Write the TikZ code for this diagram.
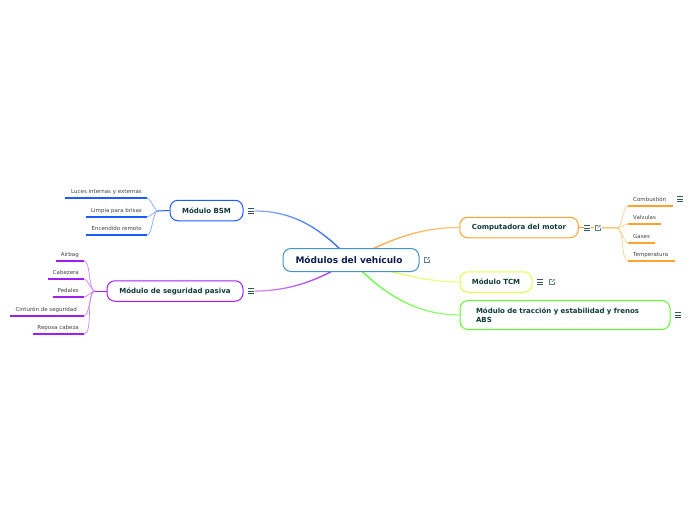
\documentclass[tikz,border=0pt]{standalone}
\usepackage{fontspec}
\setmainfont{DejaVu Sans}
\usetikzlibrary{positioning,backgrounds,fadings}

\definecolor{bsmblue}{HTML}{1E5BFF}
\definecolor{pasivapurple}{HTML}{A31DF0}
\definecolor{motororange}{HTML}{FFA32E}
\definecolor{tcmyellow}{HTML}{E2FF45}
\definecolor{absgreen}{HTML}{5CFF2E}
\definecolor{rootblue}{HTML}{3F93D2}
\definecolor{branchtext}{HTML}{0E3B3A}
\definecolor{roottext}{HTML}{0E1F4D}

\tikzset{
  rootbox/.style={draw=rootblue, fill=white, rounded corners=8pt, line width=1pt, minimum width=136pt, minimum height=23pt, inner sep=0pt, font=\fontsize{9}{11}\selectfont\bfseries, text=roottext},
  branchbox/.style={draw=#1, fill=white, rounded corners=8pt, line width=1pt, inner sep=0pt, minimum height=20.5pt, font=\fontsize{7}{9}\selectfont\bfseries, text=branchtext},
  leafbox/.style={inner sep=0pt, text height=4pt, text depth=4pt, font=\fontsize{5.5}{6}\selectfont, text=black!75},
  leafleft/.style={leafbox, anchor=south east, xshift=-5pt},
  leafright/.style={leafbox, anchor=south west, xshift=5pt},
  underline/.style={draw=#1, line width=1.2pt},
  mainleft/.style={draw=#1!50, line width=1.2pt, postaction={draw=#1, path fading=west}},
  mainright/.style={draw=#1!60, line width=1.2pt, postaction={draw=#1, path fading=east}},
  stubline/.style={draw=#1, line width=1pt},
  twig/.style={draw=#1!55, line width=0.7pt, looseness=0.55},
  menuicon/.style={minimum size=7pt, inner sep=0pt, fill=white, path picture={
      \draw[branchtext!85, line width=0.6pt] (-3pt,2.5pt) -- (3pt,2.5pt) (-3pt,0pt) -- (3pt,0pt) (-3pt,-2.5pt) -- (3pt,-2.5pt);}},
  linkicon/.style={minimum size=8pt, inner sep=0pt, fill=white, path picture={
      \draw[branchtext!65, line width=0.4pt] (0.3pt,2.5pt) -- (-2.6pt,2.5pt) -- (-2.6pt,-2.6pt) -- (2.5pt,-2.6pt) -- (2.5pt,-0.2pt);
      \draw[branchtext!65, line width=0.4pt] (-0.5pt,-0.2pt) -- (2.5pt,2.7pt) (0.9pt,2.7pt) -- (2.5pt,2.7pt) -- (2.5pt,1.1pt);}}
}

\begin{document}
\begin{tikzpicture}[x=1pt, y=-1pt]
  \useasboundingbox (0,0) rectangle (696,520);

  % central topic and branches
  \node[rootbox] (root) at (351,260) {M\'odulos del veh\'iculo\rule{4pt}{0pt}};
  \node[branchbox=bsmblue, minimum width=73pt] (bsm) at (206.5,210.5) {M\'odulo BSM};
  \node[branchbox=pasivapurple, minimum width=136pt] (pasiva) at (175,291) {M\'odulo de seguridad pasiva};
  \node[branchbox=motororange, minimum width=118.5pt] (motor) at (519,227.5) {Computadora del motor};
  \node[branchbox=tcmyellow, minimum width=72pt] (tcm) at (496,282) {M\'odulo TCM};
  \node[branchbox=absgreen, minimum height=29pt, text width=178pt, inner xsep=16pt, align=left] (abs) at (565,315) {M\'odulo de tracci\'on y estabilidad y frenos\\ABS};

  % icons
  \node[menuicon] (bsmmenu) at (251,211) {};
  \node[menuicon] (pasivamenu) at (251,291) {};
  \node[menuicon] (motormenu) at (587,228) {};
  \node[linkicon] (motorlink) at (598,228) {};
  \node[menuicon] (tcmmenu) at (540,282) {};
  \node[linkicon] (tcmlink) at (552,282) {};
  \node[menuicon] (absmenu) at (678,315) {};
  \node[linkicon] (rootlink) at (427,260) {};
  \node[menuicon] (combmenu) at (680,199) {};

  % hubs
  \coordinate (bsmhub) at (158,211);
  \coordinate (pasivahub) at (95,291);
  \coordinate (motorhub) at (617,228);

  % leaves of BSM
  \coordinate (luces) at (147,198);
  \coordinate (limpia) at (147,217);
  \coordinate (remoto) at (147,235);
  \node[leafleft] (lucestxt) at (luces) {Luces internas y externas};
  \node[leafleft] (limpiatxt) at (limpia) {Limpia para brisas};
  \node[leafleft] (remototxt) at (remoto) {Encendido remoto};
  \draw[underline=bsmblue] (65,198) -- (luces);
  \draw[underline=bsmblue] (86,217) -- (limpia);
  \draw[underline=bsmblue] (86,235) -- (remoto);

  % leaves of seguridad pasiva
  \coordinate (airbag) at (84,261);
  \coordinate (cabezera) at (84,279);
  \coordinate (pedales) at (84,297);
  \coordinate (cinturon) at (84,316);
  \coordinate (reposa) at (84,334);
  \node[leafleft] (airbagtxt) at (airbag) {Airbag};
  \node[leafleft] (cabezatxt) at (cabezera) {Cabezera};
  \node[leafleft] (pedalestxt) at (pedales) {Pedales};
  \node[leafleft, xshift=-2pt] (cinturontxt) at (cinturon) {Cintur\'on de seguridad};
  \node[leafleft] (reposatxt) at (reposa) {Reposa cabeza};
  \draw[underline=pasivapurple] (56,261) -- (airbag);
  \draw[underline=pasivapurple] (48,279) -- (cabezera);
  \draw[underline=pasivapurple] (53,297) -- (pedales);
  \draw[underline=pasivapurple] (10,316) -- (cinturon);
  \draw[underline=pasivapurple] (33,334) -- (reposa);

  % leaves of computadora
  \coordinate (comb) at (628,206);
  \coordinate (valv) at (628,224);
  \coordinate (gases) at (628,243);
  \coordinate (temp) at (628,261);
  \node[leafright] (combtxt) at (comb) {Combusti\'on};
  \node[leafright] (valvtxt) at (valv) {Valvulas};
  \node[leafright] (gasestxt) at (gases) {Gases};
  \node[leafright] (temptxt) at (temp) {Temperatura};
  \draw[underline=motororange] (comb) -- (673,206);
  \draw[underline=motororange] (valv) -- (661,224);
  \draw[underline=motororange] (gases) -- (655,243);
  \draw[underline=motororange] (temp) -- (675,261);

  \begin{scope}[on background layer]
    \draw[mainleft=bsmblue] (root.center) .. controls (325,233) and (298,211) .. (bsmmenu.east);
    \draw[mainleft=pasivapurple] (root.center) .. controls (320,280) and (290,291) .. (pasivamenu.east);
    \draw[mainright=motororange] (root.center) .. controls (395,236) and (425,227.5) .. (motor.west);
    \draw[mainright=tcmyellow] (root.center) .. controls (400,275) and (430,282) .. (tcm.west);
    \draw[mainright=absgreen] (root.center) .. controls (385,297) and (420,315) .. (abs.west);

    \foreach \leaf in {luces,limpia,remoto}
      \draw[twig=bsmblue] (bsmhub) to[out=180,in=0] (\leaf);
    \foreach \leaf in {airbag,cabezera,pedales,cinturon,reposa}
      \draw[twig=pasivapurple] (pasivahub) to[out=180,in=0] (\leaf);
    \foreach \leaf in {comb,valv,gases,temp}
      \draw[twig=motororange] (motorhub) to[out=0,in=180] (\leaf);

    \draw[stubline=bsmblue] (bsm.west) -- (bsmhub);
    \draw[stubline=pasivapurple] (pasiva.west) -- (pasivahub);
    \draw[stubline=motororange] (motor.east) -- (motorhub);
  \end{scope}
\end{tikzpicture}
\end{document}
